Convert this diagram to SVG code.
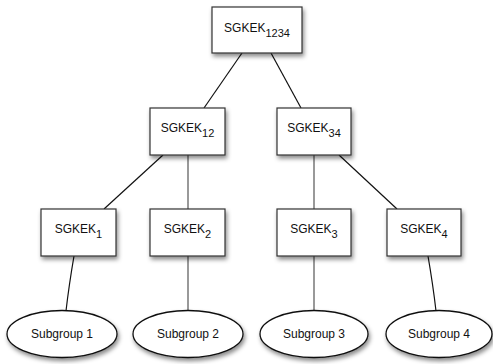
<svg xmlns="http://www.w3.org/2000/svg" width="493" height="364" viewBox="0 0 493 364">
<defs>
<filter id="sh" x="-20%" y="-20%" width="150%" height="160%">
<feDropShadow dx="1.5" dy="3" stdDeviation="2.2" flood-color="#000" flood-opacity="0.45"/>
</filter>
</defs>
<style>
.box{fill:#fff;stroke:#333;stroke-width:1.2;filter:url(#sh)}
.ell{fill:#fff;stroke:#111;stroke-width:1.3;filter:url(#sh)}
.t{font-family:"Liberation Sans",Arial,sans-serif;font-size:12px;fill:#111;text-anchor:middle}
.sub{font-size:11px}
.c{stroke:#111;stroke-width:1.2;fill:none}
.v{stroke:#555;stroke-width:1.2;fill:none}
</style>
<rect width="493" height="364" fill="#fff"/>
<g id="connectors">
<line class="c" x1="242" y1="53" x2="204" y2="108"/>
<line class="c" x1="271" y1="53" x2="301" y2="108"/>
<line class="c" x1="163" y1="155" x2="104" y2="209"/>
<line class="v" x1="188" y1="155" x2="188" y2="209"/>
<line class="v" x1="314" y1="155" x2="314" y2="209"/>
<line class="c" x1="339" y1="155" x2="397" y2="209"/>
<path class="c" d="M74 256 Q69 285 66 311"/>
<line class="v" x1="188" y1="256" x2="188" y2="311"/>
<line class="v" x1="314" y1="256" x2="314" y2="311"/>
<path class="c" d="M428 256 Q433 285 436 311"/>
</g>
<g id="n1234">
<rect class="box" x="212" y="7" width="90" height="46"/>
<text class="t" x="257" y="32">SGKEK<tspan class="sub" dy="5">1234</tspan></text>
</g>
<g id="n12">
<rect class="box" x="150" y="108" width="75" height="47"/>
<text class="t" x="187.5" y="132">SGKEK<tspan class="sub" dy="5">12</tspan></text>
</g>
<g id="n34">
<rect class="box" x="277" y="108" width="74" height="47"/>
<text class="t" x="314" y="132">SGKEK<tspan class="sub" dy="5">34</tspan></text>
</g>
<g id="n1">
<rect class="box" x="41" y="209" width="75" height="47"/>
<text class="t" x="78.5" y="233">SGKEK<tspan class="sub" dy="5">1</tspan></text>
</g>
<g id="n2">
<rect class="box" x="150" y="209" width="75" height="47"/>
<text class="t" x="187.5" y="233">SGKEK<tspan class="sub" dy="5">2</tspan></text>
</g>
<g id="n3">
<rect class="box" x="277" y="209" width="74" height="47"/>
<text class="t" x="314" y="233">SGKEK<tspan class="sub" dy="5">3</tspan></text>
</g>
<g id="n4">
<rect class="box" x="387" y="209" width="74" height="47"/>
<text class="t" x="424" y="233">SGKEK<tspan class="sub" dy="5">4</tspan></text>
</g>
<g id="s1">
<ellipse class="ell" cx="62" cy="334" rx="55" ry="23.5"/>
<text class="t" x="62" y="338">Subgroup 1</text>
</g>
<g id="s2">
<ellipse class="ell" cx="188" cy="334" rx="55" ry="23.5"/>
<text class="t" x="188" y="338">Subgroup 2</text>
</g>
<g id="s3">
<ellipse class="ell" cx="314" cy="334" rx="54" ry="23.5"/>
<text class="t" x="314" y="338">Subgroup 3</text>
</g>
<g id="s4">
<ellipse class="ell" cx="439" cy="334" rx="53" ry="23.5"/>
<text class="t" x="439" y="338">Subgroup 4</text>
</g>
</svg>
